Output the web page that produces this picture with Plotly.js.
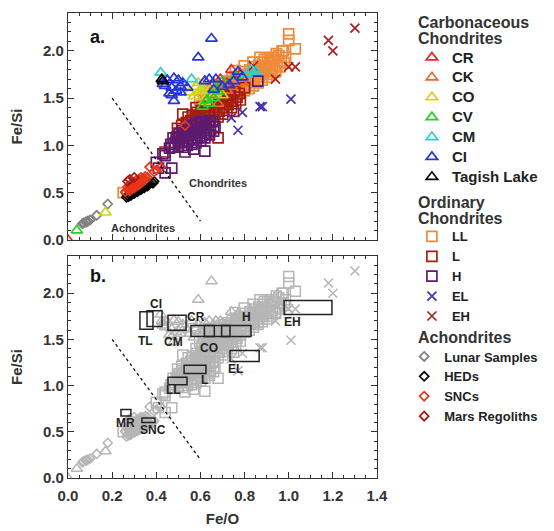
<!DOCTYPE html>
<html><head><meta charset="utf-8">
<script src="https://cdn.plot.ly/plotly-3.0.1.min.js"></script>
<style>html,body{margin:0;padding:0;background:#fff;}#chart{width:554px;height:531px;}
.legendtext{font-size:15px !important;}
</style>
</head><body><div id="chart"></div>
<script>
// ---------- Data (Fe/O, Fe/Si) ----------
const crFeO = [0.74,0.62,0.69,0.78,0.72,0.00];
const crFeSi = [1.80,1.68,1.70,1.75,1.66,0.00];
const ckFeO = [0.66,0.71,0.74,0.68,0.79,0.72];
const ckFeSi = [1.66,1.63,1.62,1.44,1.66,1.58];
const coFeO = [0.57,0.59,0.61,0.63,0.70,0.60,0.67,0.61,0.66,0.58,0.64,0.17,0.62,0.55];
const coFeSi = [1.52,1.66,1.61,1.51,1.53,1.59,1.55,1.57,1.53,1.62,1.58,0.29,1.46,1.56];
const cvFeO = [0.04,0.61,0.63,0.65,0.67,0.70,0.76,0.68,0.66,0.64];
const cvFeSi = [0.10,1.41,1.48,1.53,1.61,1.68,1.73,1.57,1.50,1.44];
const cmFeO = [0.42,0.56,0.83,0.81,0.85];
const cmFeSi = [1.77,1.70,1.80,1.75,1.78];
const ciFeO = [0.65,0.59,0.48,0.50,0.43,0.44,0.47,0.51,0.54,0.46,0.51,0.48,0.47,0.52,0.64,0.67,0.73,0.77,0.79,0.66,0.70,0.75,0.62,0.45,0.49];
const ciFeSi = [2.13,1.93,1.71,1.69,1.65,1.63,1.61,1.62,1.61,1.55,1.56,1.47,1.53,1.66,1.70,1.70,1.64,1.78,1.72,1.59,1.62,1.68,1.68,1.69,1.58];
const tlFeO = [0.43,0.425];
const tlFeSi = [1.68,1.70];

const llFeO = [0.600,0.607,0.596, 0.620,0.626,0.615,0.623, 0.641,0.646,0.636,0.644, 0.660,0.667,0.655,0.663,
  0.681,0.686,0.676,0.684, 0.700,0.706,0.695,0.703, 0.721,0.727,0.716,0.724, 0.740,0.747,0.735,0.743,
  0.760,0.766,0.755,0.763,0.758, 0.781,0.787,0.776,0.784, 0.800,0.806,0.795,0.803,0.798,
  0.821,0.827,0.816,0.824, 0.840,0.846,0.835,0.843,0.838, 0.861,0.867,0.856,0.864,
  0.880,0.886,0.875,0.883, 0.901,0.907,0.896,0.904, 0.920,0.926,0.915,0.923, 0.941,0.947,0.936,0.944,
  0.960,0.966,0.955, 0.980,0.986,0.975,
  1.00,1.00,1.03,0.97,0.94,0.25,0.58,0.56,0.87,0.93,0.89];
const llFeSi = [1.36,1.42,1.48, 1.38,1.45,1.51,1.56, 1.40,1.47,1.53,1.58, 1.42,1.48,1.55,1.61,
  1.44,1.50,1.57,1.63, 1.46,1.53,1.59,1.66, 1.48,1.55,1.61,1.68, 1.50,1.57,1.64,1.71,
  1.53,1.60,1.66,1.73,1.79, 1.55,1.62,1.69,1.75, 1.58,1.64,1.71,1.78,1.84,
  1.60,1.67,1.73,1.80, 1.63,1.69,1.76,1.83,1.88, 1.66,1.72,1.79,1.85,
  1.69,1.75,1.81,1.88, 1.72,1.78,1.84,1.91, 1.75,1.81,1.87,1.93, 1.79,1.85,1.91,1.97,
  1.83,1.89,1.95, 1.87,1.93,2.00,
  2.18,2.11,2.02,2.00,1.78,0.50,1.30,1.27,1.93,1.89,1.91];
const lFeO = [0.500,0.506,0.496, 0.520,0.526,0.515, 0.541,0.546,0.536,0.544, 0.560,0.566,0.555,0.563,
  0.581,0.586,0.576,0.584, 0.600,0.606,0.595,0.603, 0.621,0.626,0.616,0.624, 0.640,0.646,0.635,0.643,
  0.661,0.666,0.656,0.664, 0.680,0.686,0.675,0.683, 0.701,0.706,0.696,0.704, 0.720,0.726,0.715,0.723,
  0.741,0.746,0.736, 0.760,0.766,0.755, 0.781,0.776,
  0.52,0.58,0.49,0.68,0.80,0.75,0.47,0.44];
const lFeSi = [1.06,1.12,1.18, 1.08,1.14,1.21, 1.11,1.17,1.24,1.30, 1.13,1.20,1.26,1.32,
  1.15,1.22,1.28,1.35, 1.18,1.25,1.31,1.37, 1.21,1.27,1.34,1.40, 1.24,1.30,1.37,1.43,
  1.27,1.33,1.40,1.46, 1.30,1.36,1.43,1.49, 1.33,1.40,1.46,1.52, 1.37,1.43,1.49,1.55,
  1.40,1.47,1.53, 1.44,1.51,1.57, 1.48,1.55,
  1.33,1.40,1.08,1.08,1.61,1.36,0.98,0.93];
const hFeO = [0.460,0.466, 0.481,0.486,0.476, 0.500,0.506,0.495,0.503, 0.521,0.526,0.516,0.524,0.519,
  0.540,0.546,0.535,0.543,0.538, 0.561,0.566,0.556,0.564,0.559, 0.580,0.586,0.575,0.583,0.578,
  0.601,0.606,0.596,0.604,0.599, 0.620,0.626,0.615,0.623, 0.641,0.646,0.636,0.644, 0.660,0.666,0.655,
  0.43,0.53,0.62,0.47,0.44,0.41,0.44,0.86,0.57,0.40];
const hFeSi = [0.97,1.01, 0.98,1.03,1.08, 0.99,1.04,1.09,1.13, 0.98,1.03,1.08,1.12,1.16,
  1.00,1.05,1.10,1.14,1.19, 1.01,1.06,1.11,1.16,1.21, 1.03,1.08,1.13,1.18,1.23,
  1.05,1.10,1.15,1.20,1.25, 1.08,1.13,1.18,1.23, 1.11,1.16,1.21,1.26, 1.15,1.20,1.25,
  0.91,0.93,0.94,0.76,0.71,0.76,0.89,1.68,0.96,0.82];
const elFeO = [0.79,0.87,0.88,0.77,0.74,1.01];
const elFeSi = [1.35,1.41,1.41,1.16,1.29,1.49];
const ehFeO = [1.30,1.18,1.20,1.00,1.03,0.94,0.84];
const ehFeSi = [2.24,2.11,2.00,1.83,1.83,1.70,1.84];

const lunarFeO = [0.065,0.07,0.08,0.085,0.09,0.10,0.13,0.18,0.26,0.28,0.30];
const lunarFeSi = [0.17,0.18,0.19,0.19,0.20,0.21,0.26,0.38,0.50,0.52,0.55];
const hedFeO = [0.265,0.27,0.275,0.28,0.285,0.29,0.295,0.30,0.305,0.31,0.315,0.32,0.325,0.33,0.335,0.34,0.345,0.35,0.355,0.36,0.365,0.37,0.38,0.385,0.39];
const hedFeSi = [0.45,0.47,0.46,0.48,0.47,0.49,0.50,0.49,0.51,0.52,0.51,0.53,0.54,0.53,0.55,0.56,0.55,0.57,0.58,0.57,0.59,0.60,0.61,0.60,0.62];
const sncFeO = [0.26,0.27,0.27,0.28,0.28,0.28,0.29,0.29,0.29,0.30,0.30,0.30,0.31,0.31,0.31,0.32,0.32,0.32,0.33,0.33,0.33,0.34,0.34,0.35,0.35,0.36,0.37,0.40,0.42,0.39,0.53];
const sncFeSi = [0.51,0.53,0.56,0.52,0.55,0.58,0.54,0.57,0.60,0.55,0.58,0.61,0.57,0.60,0.63,0.58,0.61,0.64,0.60,0.63,0.66,0.62,0.65,0.64,0.67,0.66,0.77,0.74,0.77,0.72,1.21];
const mrFeO = [0.27,0.28,0.30];
const mrFeSi = [0.62,0.64,0.66];

// Divider between chondrites and achondrites
const divFeO = [0.2, 0.6];
const divFeSi = [1.5, 0.2];

// Panel b boxes
const boxNames = ['TL','CI','CM','CR','CO','H','EH','EL','L','LL','MR','SNC'];
const boxFeO0 = [0.326,0.358,0.453,0.557,0.618,0.696,0.979,0.734,0.526,0.453,0.240,0.335];
const boxFeO1 = [0.385,0.426,0.535,0.663,0.734,0.829,1.196,0.866,0.625,0.539,0.285,0.394];
const boxFeSi0 = [1.61,1.64,1.60,1.53,1.53,1.53,1.77,1.26,1.13,1.01,0.67,0.60];
const boxFeSi1 = [1.80,1.81,1.76,1.65,1.65,1.65,1.92,1.38,1.22,1.09,0.74,0.65];

// Legend section headings
const headings = ['Carbonaceous','Chondrites','Ordinary','Chondrites','Achondrites'];

// ---------- Styling ----------
const FONT = 'Liberation Sans, Arial, Helvetica, sans-serif';
const GRAY = '#b5b5b5';
const groups = [
  ['LL', llFeO, llFeSi, 'square-open', '#ee8a3a', 10, 'legend2'],
  ['L', lFeO, lFeSi, 'square-open', '#a31d10', 10, 'legend2'],
  ['H', hFeO, hFeSi, 'square-open', '#5e1a6e', 10, 'legend2'],
  ['EL', elFeO, elFeSi, 'x-thin-open', '#4b2fb0', 9, 'legend2'],
  ['EH', ehFeO, ehFeSi, 'x-thin-open', '#b01e1e', 9, 'legend2'],
  ['Lunar Samples', lunarFeO, lunarFeSi, 'diamond-open', '#808080', 7, 'legend3'],
  ['HEDs', hedFeO, hedFeSi, 'diamond-open', '#000000', 7, 'legend3'],
  ['SNCs', sncFeO, sncFeSi, 'diamond-open', '#e8361a', 7, 'legend3'],
  ['Mars Regoliths', mrFeO, mrFeSi, 'diamond-open', '#a41818', 7, 'legend3'],
  ['CR', crFeO, crFeSi, 'triangle-up-open', '#e8262b', 10, 'legend'],
  ['CK', ckFeO, ckFeSi, 'triangle-up-open', '#f0642a', 10, 'legend'],
  ['CO', coFeO, coFeSi, 'triangle-up-open', '#d2d41c', 10, 'legend'],
  ['CV', cvFeO, cvFeSi, 'triangle-up-open', '#2ccc2c', 10, 'legend'],
  ['CM', cmFeO, cmFeSi, 'triangle-up-open', '#2ccfd0', 10, 'legend'],
  ['CI', ciFeO, ciFeSi, 'triangle-up-open', '#2636d8', 10, 'legend'],
  ['Tagish Lake', tlFeO, tlFeSi, 'triangle-up-open', '#000000', 10, 'legend'],
];
const legendOrder = {legend:['CR','CK','CO','CV','CM','CI','Tagish Lake'], legend2:['LL','L','H','EL','EH'], legend3:['Lunar Samples','HEDs','SNCs','Mars Regoliths']};

const traces = [];
groups.forEach(g => {
  traces.push({type:'scatter', mode:'markers', x:g[1], y:g[2], xaxis:'x2', yaxis:'y2', showlegend:false, hoverinfo:'skip',
    marker:{symbol:g[3], size:g[5], color:GRAY, line:{width:1.5, color:GRAY}}});
});
groups.forEach(g => {
  traces.push({type:'scatter', mode:'markers', name:g[0], x:g[1], y:g[2], xaxis:'x', yaxis:'y', legend:g[6],
    legendrank: legendOrder[g[6]].indexOf(g[0]) + 1,
    marker:{symbol:g[3], size:g[5], color:g[4], line:{width:1.7, color:g[4]}}});
});
[['x','y'],['x2','y2']].forEach(a => {
  traces.push({type:'scatter', mode:'lines', x:divFeO, y:divFeSi, xaxis:a[0], yaxis:a[1], showlegend:false, hoverinfo:'skip',
    line:{color:'#111', width:1.3, dash:'3px,3px'}});
});

const tickFont = {family:FONT, size:15, color:'#333', weight:'bold'};
function axis(extra){
  return Object.assign({showline:true, linecolor:'#333', linewidth:1.2, mirror:'allticks', ticks:'inside', ticklen:6,
    tickwidth:1.1, tickcolor:'#333', showgrid:false, zeroline:false, tickfont:tickFont}, extra);
}
const xCommon = {range:[0,1.4], dtick:0.2, tick0:0, tickformat:'.1f', minor:{ticks:'inside', ticklen:3, dtick:0.05, tickcolor:'#333', tickwidth:1, showgrid:false}};
const yCommon = {range:[0,2.4], dtick:0.5, tick0:0, tickformat:'.1f', minor:{ticks:'inside', ticklen:3, dtick:0.1, tickcolor:'#333', tickwidth:1, showgrid:false}};
const titleFont = {family:FONT, size:15, color:'#333', weight:'bold'};

const shapes = boxNames.map((n,i) => ({type:'rect', xref:'x2', yref:'y2', x0:boxFeO0[i], x1:boxFeO1[i], y0:boxFeSi0[i], y1:boxFeSi1[i],
  line:{color:'#222', width:1.5}, fillcolor:'rgba(0,0,0,0)', layer:'above'}));

const boxLabelPos = {TL:[0.35,1.48], CI:[0.40,1.88], CM:[0.48,1.47], CR:[0.58,1.74], CO:[0.64,1.41], H:[0.81,1.74],
  EH:[1.015,1.69], EL:[0.76,1.18], L:[0.62,1.06], LL:[0.48,0.95], MR:[0.26,0.59], SNC:[0.385,0.52]};
const annotations = boxNames.map(n => ({xref:'x2', yref:'y2', x:boxLabelPos[n][0], y:boxLabelPos[n][1], text:n, showarrow:false,
  font:{family:FONT, size:12, color:'#222', weight:'bold'}}));
annotations.push(
  {xref:'x domain', yref:'y domain', x:0.065, y:0.945, text:'a.', showarrow:false, font:{family:FONT, size:18, color:'#111', weight:'bold'}},
  {xref:'x2 domain', yref:'y2 domain', x:0.065, y:0.965, text:'b.', showarrow:false, font:{family:FONT, size:18, color:'#111', weight:'bold'}},
  {xref:'x', yref:'y', x:0.68, y:0.60, text:'Chondrites', showarrow:false, font:{family:FONT, size:11, color:'#333', weight:'bold'}},
  {xref:'x', yref:'y', x:0.34, y:0.13, text:'Achondrites', showarrow:false, font:{family:FONT, size:11, color:'#333', weight:'bold'}}
);
const headingY = [0.9806, 0.9462, 0.5935, 0.5591, 0.3032];
headings.forEach((h,i) => annotations.push({xref:'paper', yref:'paper', x:1.126, y:headingY[i], xanchor:'left', yanchor:'middle',
  text:h, showarrow:false, font:{family:FONT, size:16, color:'#333', weight:'bold'}}));

const legFont = {family:FONT, size:13, color:'#222', weight:'bold'};
function leg(x, y){
  return {x:x, y:y, xanchor:'left', yanchor:'top', xref:'paper', yref:'paper',
    font:legFont, bgcolor:'rgba(0,0,0,0)', borderwidth:0, tracegroupgap:0, itemclick:false, itemdoubleclick:false};
}

const layout = {
  width:554, height:531, margin:{l:68, r:177, t:13, b:53, autoexpand:false}, paper_bgcolor:'#fff', plot_bgcolor:'#fff',
  showlegend:true, font:{family:FONT, color:'#333'},
  xaxis: axis(Object.assign({}, xCommon, {anchor:'y', showticklabels:false})),
  yaxis: axis(Object.assign({}, yCommon, {anchor:'x', domain:[0.512,1], title:{text:'Fe/Si', font:titleFont, standoff:16}})),
  xaxis2: axis(Object.assign({}, xCommon, {anchor:'y2', ticklabelstandoff:4, title:{text:'Fe/O', font:titleFont, standoff:10}})),
  yaxis2: axis(Object.assign({}, yCommon, {anchor:'x2', domain:[0,0.477], title:{text:'Fe/Si', font:titleFont, standoff:16}})),
  legend: leg(1.113, 0.9366),
  legend2: leg(1.113, 0.5517),
  legend3: leg(1.088, 0.2936),
  shapes: shapes, annotations: annotations
};
Plotly.newPlot('chart', traces, layout, {displayModeBar:false, staticPlot:true});
</script></body></html>
